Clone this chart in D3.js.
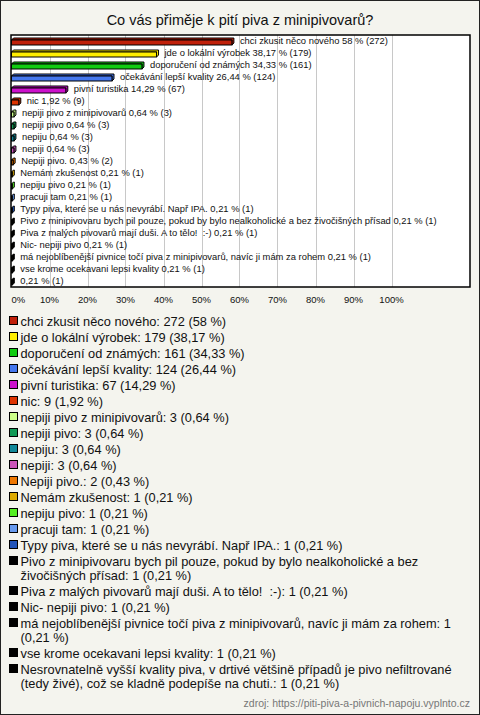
<!DOCTYPE html>
<html><head><meta charset="utf-8">
<script src="https://cdn.jsdelivr.net/npm/d3@7"></script>
<style>
html,body{margin:0;padding:0;background:#f4f4ee;}
svg{display:block;}
text{font-family:"Liberation Sans",Arial,sans-serif;white-space:pre;}
</style></head>
<body>
<script>
const title = "Co vás přiměje k pití piva z minipivovarů?";
const categories = [
  "chci zkusit něco nového",
  "jde o lokální výrobek",
  "doporučení od známých",
  "očekávání lepší kvality",
  "pivní turistika",
  "nic",
  "nepiji pivo z minipivovarů",
  "nepiji pivo",
  "nepiju",
  "nepiji",
  "Nepiji pivo.",
  "Nemám zkušenost",
  "nepiju pivo",
  "pracuji tam",
  "Typy piva, které se u nás nevyrábí. Např IPA.",
  "Pivo z minipivovaru bych pil pouze, pokud by bylo nealkoholické a bez živočišných přísad",
  "Piva z malých pivovarů mají duši. A to tělo!  :-)",
  "Nic- nepiji pivo",
  "má nejoblíbenější pivnice točí piva z minipivovarů, navíc ji mám za rohem",
  "vse krome ocekavani lepsi kvality",
  "Nesrovnatelně vyšší kvality piva, v drtivé většině případů je pivo nefiltrované (tedy živé), což se kladně podepíše na chuti."
];
// bar labels as shown inside the chart (last one is blank there)
const barLabels = categories.slice(0, 20).concat([""]);
const counts = [272,179,161,124,67,9,3,3,3,3,2,1,1,1,1,1,1,1,1,1,1];
const percents = [58,38.17,34.33,26.44,14.29,1.92,0.64,0.64,0.64,0.64,0.43,0.21,0.21,0.21,0.21,0.21,0.21,0.21,0.21,0.21,0.21];
const colors = ["#c0200a","#ffee00","#11cc11","#4477ee","#cc11cc","#dd3300","#ccff88","#119955","#118899","#cc55bb","#ee7700","#ddaa00","#55ee22","#6699ee","#2255bb","#000000","#000000","#000000","#000000","#000000","#000000"];
const xTicks = [0,10,20,30,40,50,60,70,80,90,100];
const source = "zdroj: https://piti-piva-a-pivnich-napoju.vyplnto.cz";

const W = 480, H = 715;
const fmt = v => String(v).replace(".", ",");

const svg = d3.select("body").append("svg").attr("width", W).attr("height", H);
svg.append("rect").attr("x",0.5).attr("y",0.5).attr("width",W-1).attr("height",H-1)
  .attr("fill","#f4f4ee").attr("stroke","#222");

svg.append("text").attr("x", W/2).attr("y", 25).attr("text-anchor","middle")
  .attr("font-size", 14.5).attr("fill","#111").text(title);

const plot = {x0: 11, x1: 470, y0: 35, y1: 287};
const x = d3.scaleLinear().domain([0,100]).range([11.5, 391.5]);
const y = d3.scaleBand().domain(d3.range(categories.length)).range([plot.y0, plot.y1]);

svg.append("rect").attr("x", plot.x0).attr("y", plot.y0)
  .attr("width", plot.x1-plot.x0).attr("height", plot.y1-plot.y0)
  .attr("fill","#fff");

// grid
svg.append("g").selectAll("line").data(xTicks.slice(1)).join("line")
  .attr("x1", d => Math.round(x(d))+0.5).attr("x2", d => Math.round(x(d))+0.5)
  .attr("y1", plot.y0).attr("y2", plot.y1).attr("stroke","#c8c8c8").attr("stroke-width",1);

// bars (3D look)
const bh = 5, dep = 2;
const bars = svg.append("g").selectAll("g").data(percents).join("g");
bars.append("path")
  .attr("d", (d,i) => {
    const xs = x(0), xe = x(d), yt = Math.round(y(i) + y.bandwidth()/2 - bh/2 + 1);
    return `M${xs},${yt} L${xs+dep},${yt-dep} L${xe+dep},${yt-dep} L${xe+dep},${yt-dep+bh} L${xe},${yt+bh} L${xe},${yt} Z`;
  })
  .attr("fill", (d,i) => colors[i]).attr("stroke","#000").attr("stroke-width",1);
bars.append("rect")
  .attr("x", x(0)).attr("y", (d,i) => Math.round(y(i) + y.bandwidth()/2 - bh/2 + 1))
  .attr("width", d => x(d)-x(0)).attr("height", bh)
  .attr("fill", (d,i) => colors[i]).attr("stroke","#000").attr("stroke-width",1);

bars.append("text")
  .attr("x", d => x(d) + 8)
  .attr("y", (d,i) => y(i) + y.bandwidth()/2 + 3)
  .attr("font-size", 9.4).attr("fill","#111")
  .text((d,i) => (barLabels[i] ? barLabels[i] + " " : "") + fmt(d) + " % (" + counts[i] + ")");

// plot border
svg.append("rect").attr("x", plot.x0).attr("y", plot.y0)
  .attr("width", plot.x1-plot.x0).attr("height", plot.y1-plot.y0)
  .attr("fill","none").attr("stroke","#000").attr("stroke-width",1.5);

// x axis labels
svg.append("g").selectAll("text").data(xTicks).join("text")
  .attr("x", d => x(d))
  .attr("text-anchor", d => d === 0 ? "start" : "middle")
  .attr("y", 303).attr("font-size", 9.5).attr("fill","#111")
  .text(d => d + "%");

// legend
const lg = svg.append("g");
const maxW = 450, lineH = 14;
let cy = 326;
categories.forEach((c, i) => {
  const full = c + ": " + counts[i] + " (" + fmt(percents[i]) + " %)";
  const t = lg.append("text").attr("x", 20.5).attr("y", cy).attr("font-size", 12.8).attr("fill","#111");
  const words = full.split(" ");
  let line = [], ts = t.append("tspan").attr("x", 20.5).attr("y", cy), nLines = 1;
  words.forEach(w => {
    line.push(w);
    ts.text(line.join(" "));
    if (ts.node().getComputedTextLength() > maxW && line.length > 1) {
      line.pop(); ts.text(line.join(" "));
      line = [w];
      ts = t.append("tspan").attr("x", 20.5).attr("y", cy + nLines*lineH).text(w);
      nLines++;
    }
  });
  lg.append("rect").attr("x", 9.5).attr("y", cy - 9.5).attr("width", 8).attr("height", 8)
    .attr("fill", colors[i]).attr("stroke","#000").attr("stroke-width",1);
  cy += nLines*lineH + 2;
});

svg.append("text").attr("x", 470).attr("y", 707).attr("text-anchor","end")
  .attr("font-size", 10.5).attr("fill","#777").text(source);
</script>
</body></html>
